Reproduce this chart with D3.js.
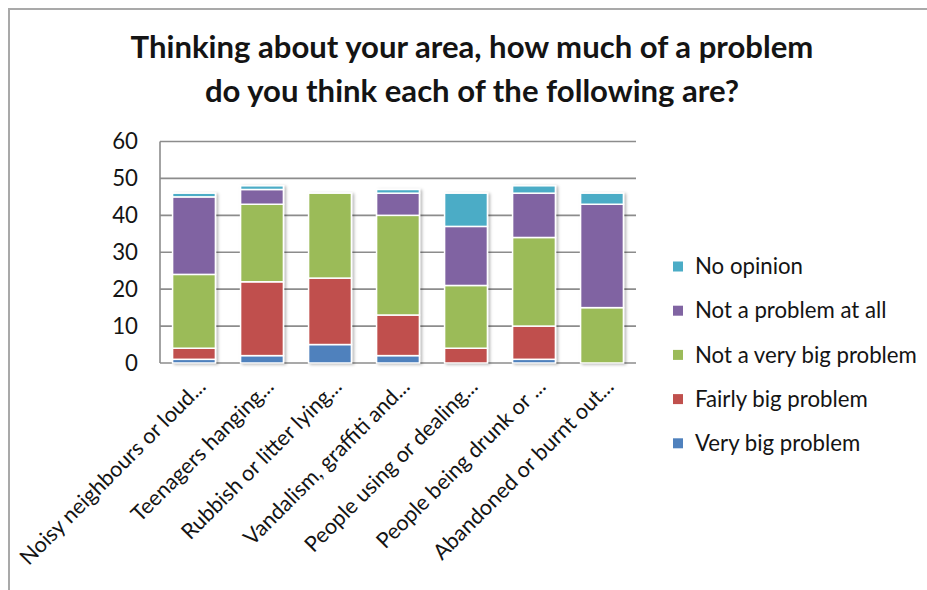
<!DOCTYPE html>
<html>
<head>
<meta charset="utf-8">
<script src="https://cdn.jsdelivr.net/npm/d3@7"></script>
<style>
  body { margin: 0; background: #fff; }
  text { font-family: Lato, "Liberation Sans", sans-serif; fill: #141414; }
</style>
</head>
<body>
<svg id="chart" width="927" height="590"></svg>
<script>
// Survey answers (% of respondents) for each local issue
const categories = [
  "Noisy neighbours or loud...",
  "Teenagers hanging...",
  "Rubbish or litter lying...",
  "Vandalism, graffiti and...",
  "People using or dealing...",
  "People being drunk or ...",
  "Abandoned or burnt out..."
];
const seriesNames = ["Very big problem", "Fairly big problem", "Not a very big problem", "Not a problem at all", "No opinion"];
const veryBig    = [1, 2, 5, 2, 0, 1, 0];
const fairlyBig  = [3, 20, 18, 11, 4, 9, 0];
const notVeryBig = [20, 21, 23, 27, 17, 24, 15];
const notAtAll   = [21, 4, 0, 6, 16, 12, 28];
const noOpinion  = [1, 1, 0, 1, 9, 2, 3];
const yTicks = [0, 10, 20, 30, 40, 50, 60];
const titleLines = ["Thinking about your area, how much of a problem", "do you think each of the following are?"];
const seriesColors = ["#4F81BD", "#C0504D", "#9BBB59", "#8064A2", "#4BACC6"];

const seriesValues = [veryBig, fairlyBig, notVeryBig, notAtAll, noOpinion];
const rows = categories.map((c, i) => {
  const r = { category: c };
  seriesNames.forEach((s, k) => { r[s] = seriesValues[k][i]; });
  return r;
});

const svg = d3.select("#chart");

// Fit a font size so a sample string spans the wanted width
function fitSize(sample, width, weight) {
  const t = svg.append("text").attr("font-size", 20).attr("font-weight", weight).text(sample);
  const w = t.node().getComputedTextLength();
  t.remove();
  return 20 * width / w;
}
const labelSize = fitSize("Not a very big problem", 222, "normal");
const catSize = fitSize(categories[0], 252, "normal");
const titleSize = fitSize(titleLines[0], 683, "bold");

// Outer chart frame (top and left edges)
svg.append("path")
  .attr("d", "M9,590 V9 H927")
  .attr("fill", "none").attr("stroke", "#a9a9a9").attr("stroke-width", 2);

// Title
svg.append("g").selectAll("text").data(titleLines).join("text")
  .attr("x", 472).attr("y", (d, i) => 58 + i * 43.5)
  .attr("text-anchor", "middle")
  .attr("font-weight", "bold")
  .attr("font-size", titleSize)
  .text(d => d);

// Scales
const x = d3.scaleBand().domain(categories).range([160, 636]).paddingInner(0.37).paddingOuter(0.185);
const y = d3.scaleLinear().domain([0, 60]).range([363, 141.5]);

// Gridlines
svg.append("g").selectAll("line").data(yTicks).join("line")
  .attr("x1", 160).attr("x2", 636)
  .attr("y1", d => y(d)).attr("y2", d => y(d))
  .attr("stroke", "#8c8c8c").attr("stroke-width", 1.6);

// Value axis line
svg.append("line")
  .attr("x1", 160).attr("x2", 160).attr("y1", y(60)).attr("y2", y(0))
  .attr("stroke", "#8c8c8c").attr("stroke-width", 1.6);

// Y tick labels
const yAxis = svg.append("g").attr("transform", "translate(160,0)")
  .call(d3.axisLeft(y).tickValues(yTicks).tickSize(0).tickPadding(22));
yAxis.select(".domain").remove();
yAxis.selectAll("text")
  .attr("font-size", labelSize)
  .attr("font-family", "Lato, 'Liberation Sans', sans-serif")
  .attr("fill", "#141414");

// Soft shadow behind the columns
const defs = svg.append("defs");
const f = defs.append("filter").attr("id", "colShadow")
  .attr("x", "-20%").attr("y", "-5%").attr("width", "140%").attr("height", "110%");
f.append("feDropShadow").attr("dx", 2).attr("dy", 1).attr("stdDeviation", 1.6)
  .attr("flood-color", "#000").attr("flood-opacity", 0.28);

// Stacked columns
const stacked = d3.stack().keys(seriesNames)(rows);
const color = d3.scaleOrdinal().domain(seriesNames).range(seriesColors);
svg.append("g").attr("filter", "url(#colShadow)")
  .selectAll("g").data(stacked).join("g")
  .attr("fill", d => color(d.key))
  .selectAll("rect").data(d => d.filter(p => p[1] - p[0] > 0)).join("rect")
  .attr("x", d => x(d.data.category))
  .attr("width", x.bandwidth())
  .attr("y", d => y(d[1]))
  .attr("height", d => y(d[0]) - y(d[1]))
  .attr("stroke", "#fff").attr("stroke-width", 1.5);

// Category labels, rotated
svg.append("g").selectAll("text").data(categories).join("text")
  .attr("transform", d => `translate(${x(d) + x.bandwidth() / 2 + 13},388) rotate(-45)`)
  .attr("text-anchor", "end")
  .attr("font-size", catSize)
  .text(d => d);

// Legend (top series first)
const legend = svg.append("g").selectAll("g").data(seriesNames.slice().reverse()).join("g")
  .attr("transform", (d, i) => `translate(673,${266.5 + i * 44.2})`);
legend.append("rect")
  .attr("x", 0).attr("y", -5).attr("width", 10).attr("height", 10)
  .attr("fill", d => color(d));
legend.append("text")
  .attr("x", 22).attr("dy", "0.35em")
  .attr("font-size", labelSize)
  .text(d => d);
</script>
</body>
</html>
